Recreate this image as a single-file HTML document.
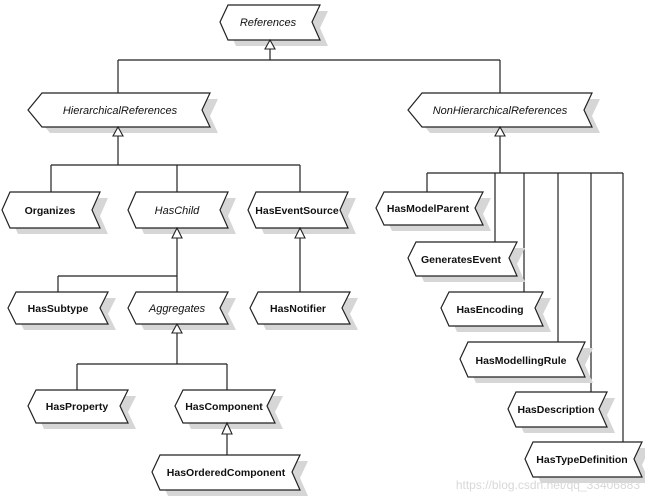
<!DOCTYPE html>
<html><head><meta charset="utf-8"><style>
html,body{margin:0;padding:0;background:#fff;}
svg{display:block;}
text{font-family:"Liberation Sans",sans-serif;font-size:11px;fill:#111;text-anchor:middle;}
.i{font-style:italic;}
.b{font-weight:bold;font-size:10.5px;}
.s{fill:#d6d6d6;stroke:none;}
.n{fill:#fff;stroke:#222;stroke-width:1.2;}
.l{stroke:#222;stroke-width:1.2;fill:none;}
.a{fill:#fff;stroke:#222;stroke-width:1.1;}
</style></head><body>
<svg width="645" height="500" viewBox="0 0 645 500" xmlns="http://www.w3.org/2000/svg">
<path class="l" d="M270 48V60M118 60H500M118 60V93M500 60V93"/>
<path class="l" d="M118 136V165M51 165H300M51 165V192M177 165V192M300 165V192"/>
<path class="l" d="M177 238V276M58 276H177M58 276V292M177 276V292"/>
<path class="l" d="M300 238V292"/>
<path class="l" d="M177 333V364M77 364H227M77 364V390M227 364V390"/>
<path class="l" d="M227 434V455"/>
<path class="l" d="M500 136V173M427 173H623M427 173V192M495 173V242M524 173V292M558 173V342M591 173V392M623 173V442"/>
<g class="s">
<polygon points="228,28 236,11 328,11 320,28 328,46 236,46"/>
<polygon points="36,116 50,99 218,99 210,116 218,133 50,133"/>
<polygon points="416,116 430,99 600,99 592,116 600,133 430,133"/>
<polygon points="10,216 18,198 108,198 100,216 108,234 18,234"/>
<polygon points="136,216 144,198 236,198 228,216 236,234 144,234"/>
<polygon points="256,216 264,198 356,198 348,216 356,234 264,234"/>
<polygon points="16,314 24,298 116,298 108,314 116,330 24,330"/>
<polygon points="136,314 144,298 236,298 228,314 236,330 144,330"/>
<polygon points="258,314 266,298 358,298 350,314 358,330 266,330"/>
<polygon points="36,412 44,396 136,396 128,412 136,429 44,429"/>
<polygon points="183,412 191,396 283,396 275,412 283,429 191,429"/>
<polygon points="160,478 168,461 308,461 300,478 308,496 168,496"/>
<polygon points="384,214 392,198 491,198 483,214 491,231 392,231"/>
<polygon points="416,264 424,248 525,248 517,264 525,282 424,282"/>
<polygon points="449,314 457,298 551,298 543,314 551,332 457,332"/>
<polygon points="468,365 476,348 593,348 585,365 593,383 476,383"/>
<polygon points="516,415 524,398 615,398 607,415 615,433 524,433"/>
<polygon points="533,465 541,448 650,448 642,465 650,483 541,483"/>
</g>
<g class="n">
<polygon points="220,22 228,5 320,5 312,22 320,40 228,40"/>
<polygon points="28,110 42,93 210,93 202,110 210,127 42,127"/>
<polygon points="408,110 422,93 592,93 584,110 592,127 422,127"/>
<polygon points="2,210 10,192 100,192 92,210 100,228 10,228"/>
<polygon points="128,210 136,192 228,192 220,210 228,228 136,228"/>
<polygon points="248,210 256,192 348,192 340,210 348,228 256,228"/>
<polygon points="8,308 16,292 108,292 100,308 108,324 16,324"/>
<polygon points="128,308 136,292 228,292 220,308 228,324 136,324"/>
<polygon points="250,308 258,292 350,292 342,308 350,324 258,324"/>
<polygon points="28,406 36,390 128,390 120,406 128,423 36,423"/>
<polygon points="175,406 183,390 275,390 267,406 275,423 183,423"/>
<polygon points="152,472 160,455 300,455 292,472 300,490 160,490"/>
<polygon points="376,208 384,192 483,192 475,208 483,225 384,225"/>
<polygon points="408,258 416,242 517,242 509,258 517,276 416,276"/>
<polygon points="441,308 449,292 543,292 535,308 543,326 449,326"/>
<polygon points="460,359 468,342 585,342 577,359 585,377 468,377"/>
<polygon points="508,409 516,392 607,392 599,409 607,427 516,427"/>
<polygon points="525,459 533,442 642,442 634,459 642,477 533,477"/>
</g>
<g class="a">
<polygon points="270,40 265,49 275,49"/>
<polygon points="118,127 113,136 123,136"/>
<polygon points="500,127 495,136 505,136"/>
<polygon points="177,228 172,238 182,238"/>
<polygon points="300,228 295,238 305,238"/>
<polygon points="177,324 172,333 182,333"/>
<polygon points="227,423 222,434 232,434"/>
</g>
<text x="268" y="26" class="i">References</text>
<text x="120" y="114" class="i">HierarchicalReferences</text>
<text x="500" y="114" class="i">NonHierarchicalReferences</text>
<text x="50" y="214" class="b">Organizes</text>
<text x="177" y="214" class="i">HasChild</text>
<text x="297" y="214" class="b">HasEventSource</text>
<text x="58" y="312" class="b">HasSubtype</text>
<text x="177" y="312" class="i">Aggregates</text>
<text x="298" y="312" class="b">HasNotifier</text>
<text x="77" y="410" class="b">HasProperty</text>
<text x="224" y="410" class="b">HasComponent</text>
<text x="226" y="476" class="b">HasOrderedComponent</text>
<text x="428" y="212" class="b">HasModelParent</text>
<text x="461" y="263" class="b">GeneratesEvent</text>
<text x="490" y="313" class="b">HasEncoding</text>
<text x="521" y="364" class="b">HasModellingRule</text>
<text x="556" y="413" class="b">HasDescription</text>
<text x="582" y="463" class="b">HasTypeDefinition</text>
<text x="640" y="489" style="fill:#d8d8d8;font-size:12px;text-anchor:end">https://blog.csdn.net/qq_33406883</text>
</svg>
</body></html>
